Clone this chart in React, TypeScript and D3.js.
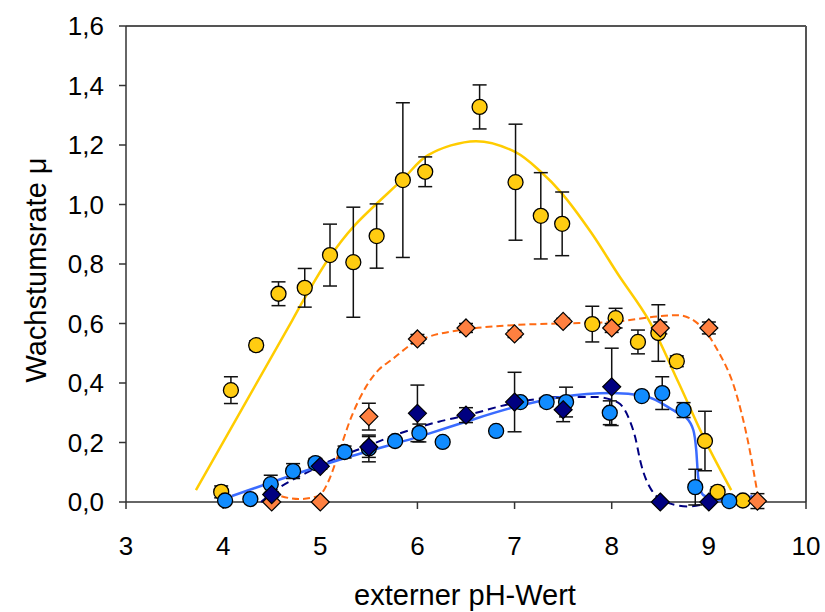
import React from "react";
import * as d3 from "d3";

// ---- data ----
const xTicks = [3, 4, 5, 6, 7, 8, 9, 10];
const yTicks = [0, 0.2, 0.4, 0.6, 0.8, 1.0, 1.2, 1.4, 1.6];

// yellow circles
const yelX = [3.98, 4.08, 4.34, 4.57, 4.84, 5.1, 5.34, 5.58, 5.85, 6.08, 6.64, 7.01, 7.27, 7.49, 7.8, 8.04, 8.27, 8.48, 8.67, 8.96, 9.09, 9.35];
const yelY = [0.034, 0.376, 0.527, 0.7, 0.72, 0.83, 0.806, 0.894, 1.082, 1.11, 1.328, 1.075, 0.962, 0.935, 0.598, 0.618, 0.538, 0.568, 0.473, 0.205, 0.034, 0.005];
const yelErr = [0.02, 0.045, 0.015, 0.04, 0.065, 0.104, 0.185, 0.108, 0.26, 0.05, 0.074, 0.195, 0.145, 0.107, 0.06, 0.033, 0.04, 0.095, 0.018, 0.1, 0.017, 0];
// yellow fit line
const yelLineX = [3.72, 4.71, 4.83, 5.09, 5.34, 5.85, 6.11, 6.6, 7.01, 7.27, 7.48, 7.79, 8.07, 8.38, 8.69, 8.96, 9.23];
const yelLineY = [0.04, 0.61, 0.68, 0.82, 0.925, 1.085, 1.166, 1.213, 1.176, 1.11, 1.04, 0.905, 0.763, 0.612, 0.4, 0.208, 0.04];

// orange diamonds
const oraX = [4.5, 5.0, 5.5, 6.0, 6.5, 7.0, 7.5, 8.0, 8.5, 9.0, 9.5];
const oraY = [0, 0, 0.287, 0.548, 0.585, 0.565, 0.607, 0.585, 0.585, 0.585, 0.003];
const oraErr = [0, 0, 0.045, 0.015, 0.015, 0.012, 0.01, 0.015, 0.02, 0.02, 0.025];
const oraLineX = [4.49, 4.78, 4.98, 5.09, 5.19, 5.32, 5.47, 5.6, 5.73, 5.99, 6.11, 6.49, 7.01, 7.48, 8.0, 8.51, 8.68, 8.92, 9.09, 9.27, 9.4, 9.5];
const oraLineY = [0.03, 0.01, 0.02, 0.074, 0.165, 0.286, 0.387, 0.444, 0.477, 0.54, 0.555, 0.58, 0.595, 0.6, 0.605, 0.625, 0.628, 0.59, 0.51, 0.377, 0.208, 0.03];

// navy diamonds
const navX = [4.5, 5.0, 5.5, 6.0, 6.5, 7.0, 7.5, 8.0, 8.5, 9.0];
const navY = [0.025, 0.12, 0.185, 0.298, 0.292, 0.336, 0.31, 0.387, 0, 0];
const navErr = [0.01, 0.01, 0.035, 0.095, 0.025, 0.1, 0.04, 0.13, 0, 0];
const navLineX = [4.39, 4.54, 4.85, 5.12, 5.5, 5.77, 6.22, 6.49, 7.0, 7.48, 7.83, 8.07, 8.17, 8.24, 8.3, 8.41, 8.58, 8.79, 9.0];
const navLineY = [0.0, 0.04, 0.097, 0.141, 0.19, 0.225, 0.27, 0.29, 0.333, 0.353, 0.353, 0.333, 0.286, 0.22, 0.13, 0.04, -0.003, -0.015, -0.003];

// blue circles
const bluX = [4.02, 4.28, 4.49, 4.72, 4.95, 5.25, 5.5, 5.77, 6.02, 6.26, 6.81, 7.06, 7.33, 7.53, 7.98, 8.31, 8.52, 8.74, 8.86, 9.21];
const bluY = [0.005, 0.01, 0.06, 0.104, 0.131, 0.168, 0.18, 0.205, 0.232, 0.202, 0.239, 0.336, 0.336, 0.336, 0.3, 0.356, 0.366, 0.309, 0.05, 0.003];
const bluErr = [0, 0, 0.03, 0.025, 0.015, 0.02, 0.045, 0.01, 0.03, 0.005, 0.005, 0.01, 0.015, 0.05, 0.04, 0.01, 0.055, 0.025, 0.06, 0];
const bluLineX = [4.09, 5.19, 6.11, 6.49, 7.0, 7.48, 8.0, 8.34, 8.68, 8.76, 8.84, 8.87, 8.89, 8.94, 9.09, 9.27, 9.45];
const bluLineY = [0.02, 0.141, 0.229, 0.269, 0.319, 0.353, 0.366, 0.356, 0.3, 0.286, 0.242, 0.175, 0.084, 0.024, 0.007, 0.007, 0.02];

const FONT = "'Liberation Sans', Arial, sans-serif";

export default function App() {
  const W = 825, H = 612;
  const x = d3.scaleLinear().domain([3, 10]).range([126, 806]);
  const y = d3.scaleLinear().domain([0, 1.6]).range([502, 26]);
  const fmt = (v: number) => v.toFixed(1).replace(".", ",");

  const mkLine = (xs: number[], ys: number[], curve: d3.CurveFactory = d3.curveMonotoneX) =>
    d3.line<number>().x((_, i) => x(xs[i])).y((v) => y(v)).curve(curve)(ys) || "";

  const errBars = (xs: number[], ys: number[], es: number[], key: string) =>
    xs.map((xv, i) => {
      const e = es[i];
      if (!e) return null;
      const cx = x(xv);
      const y1 = y(ys[i] + e), y2 = y(ys[i] - e);
      return (
        <g key={key + i} stroke="#111" strokeWidth={1.5}>
          <line x1={cx} x2={cx} y1={y1} y2={y2} />
          <line x1={cx - 7} x2={cx + 7} y1={y1} y2={y1} />
          <line x1={cx - 7} x2={cx + 7} y1={y2} y2={y2} />
        </g>
      );
    });

  const circles = (xs: number[], ys: number[], fill: string, key: string) =>
    xs.map((xv, i) => (
      <circle key={key + i} cx={x(xv)} cy={y(ys[i])} r={7.5} fill={fill} stroke="#000" strokeWidth={1.3} />
    ));
  const diamonds = (xs: number[], ys: number[], fill: string, key: string) =>
    xs.map((xv, i) => {
      const cx = x(xv), cy = y(ys[i]), s = 9;
      return (
        <path key={key + i} d={`M${cx},${cy - s}L${cx + s},${cy}L${cx},${cy + s}L${cx - s},${cy}Z`} fill={fill} stroke="#000" strokeWidth={1.2} />
      );
    });

  return (
    <svg width={W} height={H} style={{ position: "absolute", left: 0, top: 0, background: "#fff" }} fontFamily={FONT}>
      <rect width={W} height={H} fill="#fff" />
      {/* frame */}
      <line x1={126} x2={806} y1={26} y2={26} stroke="#555" strokeWidth={2} />
      <line x1={806} x2={806} y1={26} y2={502} stroke="#555" strokeWidth={2} />
      {/* axes */}
      <line x1={126} x2={126} y1={26} y2={502} stroke="#333" strokeWidth={1.5} />
      <line x1={126} x2={806} y1={502} y2={502} stroke="#333" strokeWidth={1.5} />
      {yTicks.map((t) => (
        <g key={"yt" + t}>
          <line x1={119} x2={126} y1={y(t)} y2={y(t)} stroke="#333" strokeWidth={1.5} />
          <text x={104} y={y(t)} dy="0.35em" textAnchor="end" fontSize={26} fill="#000">{fmt(t)}</text>
        </g>
      ))}
      {xTicks.map((t) => (
        <g key={"xt" + t}>
          <line x1={x(t)} x2={x(t)} y1={502} y2={509} stroke="#333" strokeWidth={1.5} />
          <text x={x(t)} y={555} textAnchor="middle" fontSize={26} fill="#000">{t}</text>
        </g>
      ))}
      <text x={465} y={605} textAnchor="middle" fontSize={29} fill="#000">externer pH-Wert</text>
      <text transform="translate(46,270) rotate(-90)" textAnchor="middle" fontSize={29} fill="#000">Wachstumsrate μ</text>

      {/* fit lines */}
      <path d={mkLine(yelLineX, yelLineY, d3.curveCatmullRom)} fill="none" stroke="#FFCC00" strokeWidth={2.5} />
      <path d={mkLine(oraLineX, oraLineY)} fill="none" stroke="#FF6A13" strokeWidth={2} strokeDasharray="7,4" />
      <path d={mkLine(navLineX, navLineY)} fill="none" stroke="#000080" strokeWidth={2} strokeDasharray="8,5" />
      <path d={mkLine(bluLineX, bluLineY)} fill="none" stroke="#3A6BFF" strokeWidth={2.5} />

      {/* error bars */}
      {errBars(yelX, yelY, yelErr, "ye")}
      {errBars(oraX, oraY, oraErr, "oe")}
      {errBars(bluX, bluY, bluErr, "be")}
      {errBars(navX, navY, navErr, "ne")}

      {/* markers */}
      {circles(yelX, yelY, "#FFCC11", "yc")}
      {diamonds(oraX, oraY, "#FF8040", "od")}
      {circles(bluX, bluY, "#118CFF", "bc")}
      {diamonds(navX, navY, "#000080", "nd")}
    </svg>
  );
}
